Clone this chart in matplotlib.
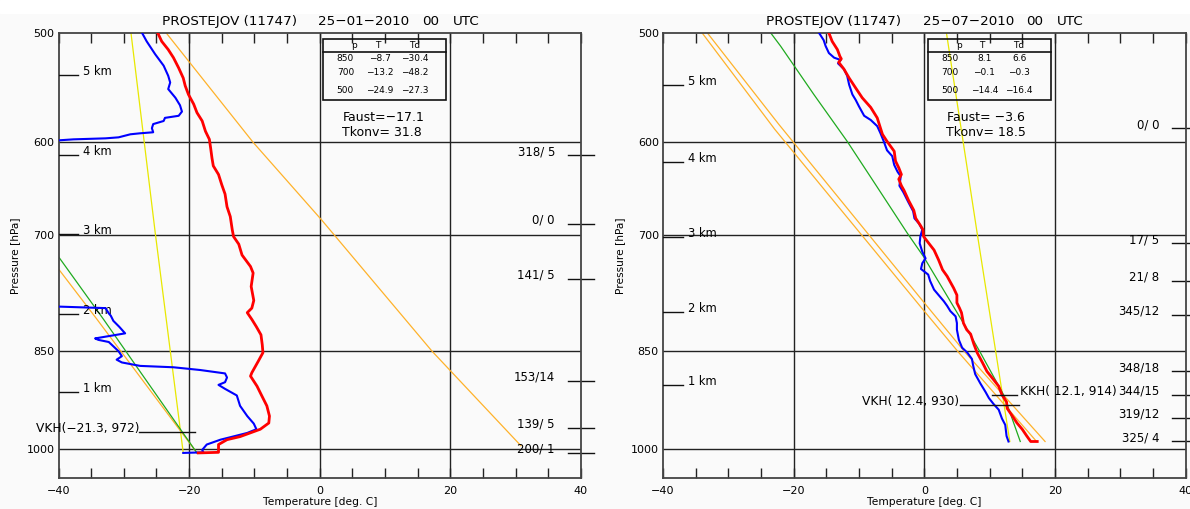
import matplotlib
matplotlib.use('Agg')
import matplotlib.pyplot as plt
from matplotlib.patches import Rectangle

W, H = 1190, 509

# ---------------- 25-01-2010 (left) ----------------
jan_temp = [-24.8, -24.2, -23.2, -22.4, -21.6, -20.9, -20.6, -20.1, -19.3, -18.8,
            -18.0, -17.5, -16.9, -16.7, -16.5, -16.3, -15.5, -15.0, -14.5, -14.2,
            -13.7, -13.4, -13.2, -12.4, -11.9, -10.6, -10.2, -10.5, -10.1, -10.4,
            -11.1, -10.4, -9.7, -9.0, -8.8, -8.7, -9.4, -10.4, -10.6, -9.6,
            -8.9, -8.1, -7.7, -7.8, -9.1, -12.2, -14.2, -15.5, -15.5, -18.6]
jan_temp_p = [500, 507, 514, 521, 530, 539, 546, 554, 563, 571,
              579, 589, 597, 606, 616, 624, 633, 644, 654, 668,
              679, 694, 702, 711, 724, 738, 746, 763, 781, 791,
              797, 806, 816, 827, 841, 852, 864, 881, 886, 901,
              915, 931, 947, 958, 968, 980, 985, 993, 1006, 1007]
jan_dew = [-27.2, -26.5, -25.2, -23.9, -23.2, -22.9, -23.2, -22.1, -21.4, -21.1,
           -21.6, -23.7, -23.9, -25.5, -25.7, -25.5, -27.5, -29.0, -30.8, -32.8,
           -37.7, -40.0, -43.0, -47.0, -50.0, -48.2, -46.0, -42.0, -40.0, -32.8,
           -32.3, -32.0, -31.6, -30.7, -29.8, -34.4, -33.9, -32.3, -31.6, -30.8,
           -30.3, -31.1, -30.3, -27.5, -22.4, -18.3, -14.5, -14.2, -14.5, -15.5,
           -14.5, -12.7, -12.2, -11.1, -10.1, -9.7, -11.1, -13.7, -15.2, -17.3,
           -18.0, -17.8, -20.9]
jan_dew_p = [500, 507, 518, 528, 537, 543, 549, 557, 564, 570,
             574, 576, 579, 582, 586, 590, 591, 592, 595, 596,
             597, 598, 605, 630, 660, 700, 750, 785, 789, 791,
             798, 801, 808, 816, 825, 832, 834, 837, 843, 850,
             857, 862, 866, 871, 873, 877, 882, 888, 895, 899,
             905, 915, 931, 947, 959, 968, 974, 981, 985, 993,
             1002, 1006, 1007]
jan_dry_t = [-23.5, -10.2, 0.3, 17.2, 30.8]
jan_dry_p = [500, 600, 683, 850, 995]
jan_orange_t = [-18.8, -34.1, -40.0]
jan_orange_p = [1007, 806, 741]
jan_green_t = [-18.8, -33.1, -40.0]
jan_green_p = [1007, 806, 726]
jan_mix_t = [-20.9, -25.2, -28.9]
jan_mix_p = [1007, 697, 500]
jan_km_p = [536, 613, 699, 799, 910]
jan_wind = ['318/ 5', '0/ 0', '141/ 5', '153/14', '139/ 5', '200/ 1']
jan_wind_p = [613, 687, 753, 893, 966, 1007]
jan_table = [['850', '−8.7', '−30.4'], ['700', '−13.2', '−48.2'], ['500', '−24.9', '−27.3']]

# ---------------- 25-07-2010 (right) ----------------
jul_temp = [-14.6, -14.1, -13.3, -12.9, -12.7, -13.1, -12.3, -11.5, -10.5, -9.5,
            -8.2, -7.2, -6.7, -6.4, -5.7, -4.6, -4.4, -3.9, -3.5, -3.9,
            -3.5, -3.1, -2.4, -1.6, -1.3, -0.6, -0.2, -0.1, 0.7, 1.5,
            2.2, 2.8, 3.5, 4.5, 5.0, 5.0, 5.4, 5.7, 6.0, 6.5,
            7.1, 7.6, 8.1, 8.9, 9.6, 10.6, 11.4, 11.9, 12.6, 12.7,
            13.5, 14.2, 15.0, 15.7, 16.3, 17.3]
jul_temp_p = [500, 507, 514, 520, 522, 525, 531, 539, 548, 557,
              566, 576, 586, 592, 599, 609, 619, 626, 633, 638,
              645, 650, 661, 672, 681, 689, 694, 702, 710, 718,
              730, 742, 750, 765, 774, 784, 791, 797, 811, 820,
              826, 840, 852, 866, 879, 891, 901, 914, 925, 935,
              947, 958, 968, 979, 988, 988]
jul_dew = [-16.1, -15.4, -15.1, -14.6, -13.8, -12.8, -13.2, -12.3, -11.8, -11.5,
           -11.0, -10.5, -10.0, -9.2, -8.2, -7.2, -6.7, -6.2, -5.7, -4.9,
           -4.6, -4.1, -3.6, -3.8, -3.2, -2.5, -1.7, -1.5, -0.8, -0.3,
           -0.6, -0.7, -0.3, 0.2, -0.3, -0.5, 0.6, 0.9, 1.5, 2.2,
           3.0, 3.5, 4.0, 4.8, 5.0, 5.0, 5.3, 5.8, 6.6, 7.3,
           7.5, 7.8, 8.6, 9.4, 9.9, 10.6, 11.4, 11.9, 12.4, 12.6, 12.9]
jul_dew_p = [500, 506, 511, 517, 521, 523, 526, 531, 537, 545,
             554, 559, 565, 574, 578, 584, 591, 599, 608, 614,
             623, 630, 635, 645, 652, 662, 673, 681, 687, 694,
             702, 710, 720, 728, 734, 741, 748, 756, 767, 774,
             782, 788, 795, 802, 811, 820, 834, 845, 852, 861,
             871, 883, 897, 910, 919, 928, 937, 951, 961, 979, 988]
jul_green_t = [14.7, 12.2, 8.6, 6.6, -0.1, -2.6, -7.9, -11.8, -16.9, -22.0, -23.5]
jul_green_p = [988, 915, 852, 820, 726, 698, 639, 599, 554, 511, 500]
jul_mix_t = [13.1, 8.1, 3.4]
jul_mix_p = [988, 698, 500]
jul_dry1_t = [18.5, 6.3, 0.0, -22.3, -33.2]
jul_dry1_p = [988, 852, 784, 582, 500]
jul_dry2_t = [17.2, 5.3, 0.0, -22.9, -34.0]
jul_dry2_p = [988, 852, 795, 587, 500]
jul_km_p = [545, 620, 703, 796, 899]
jul_wind = ['0/ 0', '17/ 5', '21/ 8', '345/12', '348/18', '344/15', '319/12', '325/ 4']
jul_wind_p = [586, 710, 756, 800, 879, 914, 950, 988]
jul_table = [['850', '8.1', '6.6'], ['700', '−0.1', '−0.3'], ['500', '−14.4', '−16.4']]

km_labels = ['5 km', '4 km', '3 km', '2 km', '1 km']
ylevels = [500, 600, 700, 850, 1000]

C_RED, C_BLUE = '#ff0000', '#0000ff'
C_GREEN, C_ORANGE, C_YELLOW = '#1faa1f', '#ffb22a', '#e8e800'


def setup(ax, date, table, faust, tkonv, km_p, wind, wind_p, wind_x1):
    ax.set_facecolor('#fafafa')
    ax.set_yscale('log')
    ax.set_ylim(1050, 500)
    ax.set_xlim(-40, 40)
    ax.set_yticks(ylevels)
    ax.set_yticklabels([str(v) for v in ylevels])
    ax.yaxis.set_minor_locator(matplotlib.ticker.NullLocator())
    ax.set_xticks([-40, -20, 0, 20, 40])
    ax.set_xticks(range(-35, 40, 5), minor=True)
    ax.tick_params(axis='y', length=0, pad=3, labelsize=8)
    ax.tick_params(axis='x', which='both', direction='in', top=True, length=7,
                   width=1, pad=6, labelsize=8, color='#222222')
    for s in ax.spines.values():
        s.set_color('#444444')
        s.set_linewidth(1.3)
    for t in [-20, 0, 20]:
        ax.axvline(t, color='#222222', lw=1.0, zorder=1)
    for p in [600, 700, 850, 1000]:
        ax.axhline(p, color='#222222', lw=1.0, zorder=1)
    ax.set_xlabel('Temperature [deg. C]', fontsize=7.7, va='center')
    ax.xaxis.set_label_coords(0.5, -23.7 / 445)
    ax.set_ylabel('Pressure [hPa]', fontsize=7.7, va='center')
    ax.yaxis.set_label_coords(-43 / 522.5, 0.5)

    # title pieces
    ty = 1 + 11.3 / 445
    for x, s in zip([0.198, 0.4974, 0.6957, 0.7545],
                    ['PROSTEJOV (11747)', date, '00', 'UTC']):
        ax.text(x, ty, s, transform=ax.transAxes, fontsize=9.7, ha='left', va='center')

    # small table
    ax.add_patch(Rectangle((0.507, 0.8494), 0.235, 0.1364, transform=ax.transAxes,
                           fill=False, ec='#111111', lw=1.2, zorder=5))
    ax.plot([0.507, 0.742], [0.958, 0.958], transform=ax.transAxes,
            color='#111111', lw=1.2, zorder=5)
    for x, s in zip([0.5656, 0.611, 0.681], ['p', 'T', 'Td']):
        ax.text(x, 0.973, s, transform=ax.transAxes, fontsize=6.5, ha='center', va='center')
    for row, y in zip(table, [0.943, 0.911, 0.870]):
        for x, s in zip([0.549, 0.615, 0.6815], row):
            ax.text(x, y, s, transform=ax.transAxes, fontsize=6.5, ha='center', va='center')
    ax.text(0.5435, 0.8106, faust, transform=ax.transAxes, fontsize=9, va='center')
    ax.text(0.5425, 0.776, tkonv, transform=ax.transAxes, fontsize=9, va='center')

    # altitude markers
    for p, s in zip(km_p, km_labels):
        ax.plot([-40, -37.0], [p, p], color='#111111', lw=1.0, zorder=3)
        ax.text(-36.2, p, s, fontsize=8.3, va='baseline', ha='left', zorder=3)

    # wind labels
    for p, s in zip(wind_p, wind):
        ax.plot([38.0, wind_x1], [p, p], color='#111111', lw=1.0, clip_on=False)
        ax.text(36.0, p, s, fontsize=8.5, ha='right', va='baseline')


fig = plt.figure(figsize=(W / 100, H / 100), dpi=100, facecolor='#fafafa')
fig.add_artist(Rectangle((0, 1 - 13 / H), 1, 13 / H, transform=fig.transFigure,
                         color='white', zorder=0))

ax1 = fig.add_axes([58.5 / W, 31 / H, 522.5 / W, 445 / H])
ax2 = fig.add_axes([663 / W, 31 / H, 522.5 / W, 445 / H])

setup(ax1, '25−01−2010', jan_table, 'Faust=−17.1', 'Tkonv= 31.8',
      jan_km_p, jan_wind, jan_wind_p, 42.0)
setup(ax2, '25−07−2010', jul_table, 'Faust= −3.6', 'Tkonv= 18.5',
      jul_km_p, jul_wind, jul_wind_p, 45.0)

# left panel curves
ax1.plot(jan_mix_t, jan_mix_p, color=C_YELLOW, lw=0.9, zorder=2)
ax1.plot(jan_dry_t, jan_dry_p, color=C_ORANGE, lw=0.9, zorder=2)
ax1.plot(jan_orange_t, jan_orange_p, color=C_ORANGE, lw=0.9, zorder=2)
ax1.plot(jan_green_t, jan_green_p, color=C_GREEN, lw=0.9, zorder=2)
ax1.plot(jan_dew, jan_dew_p, color=C_BLUE, lw=1.5, zorder=4)
ax1.plot(jan_temp, jan_temp_p, color=C_RED, lw=2.0, zorder=4)
ax1.text(-27.6, 972, 'VKH(−21.3, 972)', fontsize=8.8, ha='right', va='baseline', clip_on=False)
ax1.plot([-27.6, -19.1], [972, 972], color='#111111', lw=1.0, zorder=3)

# right panel curves
ax2.plot(jul_mix_t, jul_mix_p, color=C_YELLOW, lw=0.9, zorder=2)
ax2.plot(jul_dry1_t, jul_dry1_p, color=C_ORANGE, lw=0.9, zorder=2)
ax2.plot(jul_dry2_t, jul_dry2_p, color=C_ORANGE, lw=0.9, zorder=2)
ax2.plot(jul_green_t, jul_green_p, color=C_GREEN, lw=0.9, zorder=2)
ax2.plot(jul_dew, jul_dew_p, color=C_BLUE, lw=1.5, zorder=4)
ax2.plot(jul_temp, jul_temp_p, color=C_RED, lw=2.0, zorder=4)
ax2.text(5.4, 930, 'VKH( 12.4, 930)', fontsize=8.8, ha='right', va='baseline')
ax2.plot([5.4, 14.5], [930, 930], color='#111111', lw=1.0, zorder=5)
ax2.text(14.6, 914, 'KKH( 12.1, 914)', fontsize=8.8, ha='left', va='baseline')
ax2.plot([10.3, 14.2], [914, 914], color='#111111', lw=1.0, zorder=5)

fig.savefig('out.png', dpi=100, facecolor=fig.get_facecolor())
